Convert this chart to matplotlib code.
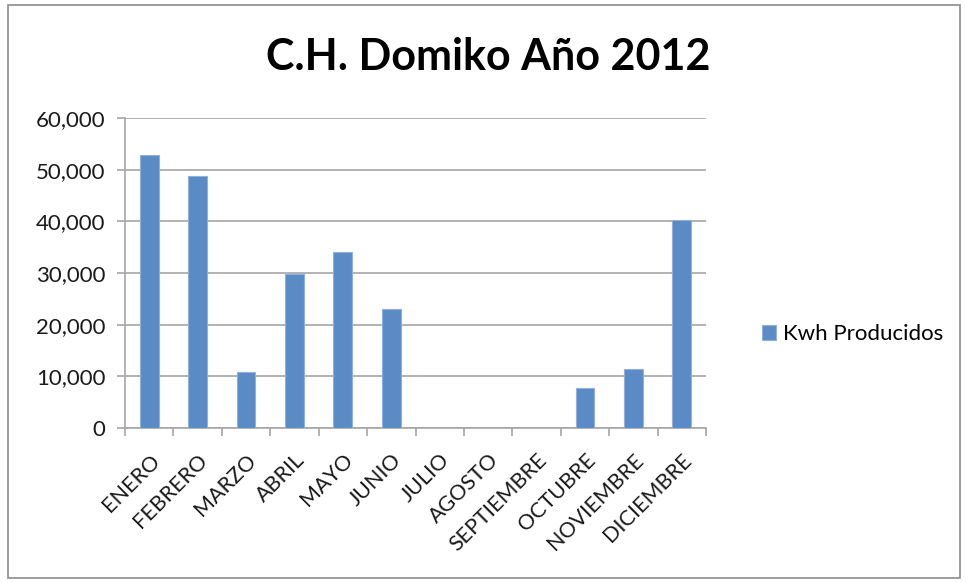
import numpy as np
import matplotlib.pyplot as plt
from matplotlib.patches import Rectangle
from matplotlib.ticker import FuncFormatter

meses = ['ENERO', 'FEBRERO', 'MARZO', 'ABRIL', 'MAYO', 'JUNIO', 'JULIO',
         'AGOSTO', 'SEPTIEMBRE', 'OCTUBRE', 'NOVIEMBRE', 'DICIEMBRE']
kwh = [52900, 48700, 10900, 29900, 34000, 23100, 0, 0, 0, 7700, 11500, 40200]

plt.rcParams['font.family'] = ['Lato', 'DejaVu Sans']

fig = plt.figure(figsize=(9.66, 5.83), dpi=100)
ax = fig.add_axes([125/966, 1-428/583, (706-125)/966, (428-118)/583])

x = np.arange(len(meses))
ax.bar(x, kwh, width=0.39, color='#5b8bc5', edgecolor='#8fb0dc', linewidth=0.8,
       label='Kwh Producidos', zorder=3)

ax.set_xlim(-0.5, len(meses)-0.5)
ax.set_ylim(0, 60000)
ax.set_yticks(range(0, 60001, 10000))
ax.yaxis.set_major_formatter(FuncFormatter(lambda v, p: '{:,.0f}'.format(v)))
ax.grid(axis='y', color='#a6a6a6', linewidth=1.2, zorder=0)

ax.set_xticks(x)
ax.set_xticklabels(meses, rotation=45, ha='right', rotation_mode='anchor', fontsize=15.5,
                   color='#1a1a1a')
ax.set_xticks(np.arange(-0.5, len(meses)), minor=True)
ax.tick_params(axis='x', which='major', length=0, pad=16)
ax.tick_params(axis='x', which='minor', length=6, color='#a6a6a6', width=1.2)
ax.tick_params(axis='y', length=6, color='#a6a6a6', width=1.2, labelsize=16, pad=8,
               labelcolor='#1a1a1a')

for s in ['top', 'right']:
    ax.spines[s].set_visible(False)
for s in ['left', 'bottom']:
    ax.spines[s].set_color('#a6a6a6')
    ax.spines[s].set_linewidth(1.2)

fig.text(488/966, 1-57/583, 'C.H. Domiko Año 2012', ha='center', va='center',
         fontsize=31, fontweight='bold')

fig.legend(loc='center left', bbox_to_anchor=(742/966, 1-334/583), frameon=False,
           fontsize=16, handlelength=0.65, handleheight=0.65, handletextpad=0.3)

fig.patches.append(Rectangle((8/966, 5/583), 952/966, 573/583, transform=fig.transFigure,
                             fill=False, edgecolor='#8c8c8c', linewidth=1.2))

fig.savefig('out.png', dpi=100)
